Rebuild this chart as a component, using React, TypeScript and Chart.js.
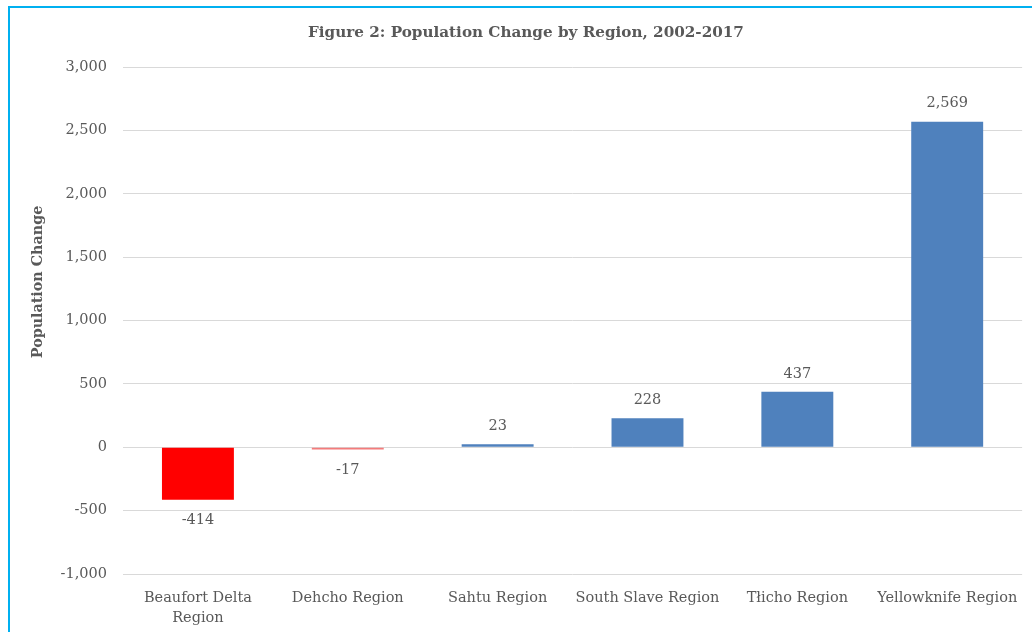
import React, { useEffect, useRef } from "react";
import { Chart, registerables } from "chart.js";

Chart.register(...registerables);

const categories: (string | string[])[] = [
  ["Beaufort Delta", "Region"],
  "Dehcho Region",
  "Sahtu Region",
  "South Slave Region",
  "Tłicho Region",
  "Yellowknife Region",
];
const populationChange: number[] = [-414, -17, 23, 228, 437, 2569];
const barColors: string[] = ["#FF0000", "#F47B7B", "#4F81BD", "#4F81BD", "#4F81BD", "#4F81BD"];
const yMin = -1000;
const yMax = 3000;
const yStep = 500;
const chartTitle = "Figure 2: Population Change by Region, 2002-2017";
const yAxisTitle = "Population Change";

const FONT = "'DejaVu Serif', serif";
const TEXT = "#595959";

const fmt = (v: number) => v.toLocaleString("en-US");

export default function App() {
  const ref = useRef<HTMLCanvasElement | null>(null);

  useEffect(() => {
    if (!ref.current) return;
    const labelsPlugin = {
      id: "extras",
      afterDraw(chart: any) {
        const ctx = chart.ctx;
        ctx.save();
        ctx.fillStyle = TEXT;
        ctx.font = `bold 15.2px ${FONT}`;
        ctx.textAlign = "center";
        ctx.textBaseline = "middle";
        ctx.fillText(chartTitle, 526, 33);
        ctx.save();
        ctx.translate(38, 282);
        ctx.rotate(-Math.PI / 2);
        ctx.font = `bold 14.3px ${FONT}`;
        ctx.fillText(yAxisTitle, 0, 0);
        ctx.restore();
        ctx.font = `14.5px ${FONT}`;
        const meta = chart.getDatasetMeta(0);
        meta.data.forEach((bar: any, i: number) => {
          const v = populationChange[i];
          const y = v >= 0 ? bar.y - 18 : bar.y + 21;
          ctx.fillText(fmt(v), bar.x, y);
        });
        ctx.restore();
      },
    };

    const chart = new Chart(ref.current, {
      type: "bar",
      data: {
        labels: categories,
        datasets: [
          {
            data: populationChange,
            backgroundColor: barColors,
            borderWidth: 0,
            categoryPercentage: 1,
            barPercentage: 0.48,
          },
        ],
      },
      options: {
        responsive: false,
        animation: false,
        layout: { padding: { left: 0, right: 9, top: 67, bottom: 0 } },
        plugins: {
          legend: { display: false },
          tooltip: { enabled: false },
          title: { display: false },
        },
        scales: {
          x: {
            grid: { display: false, drawTicks: false },
            border: { display: false },
            ticks: {
              color: TEXT,
              font: { family: FONT, size: 14.5, lineHeight: 1.38 },
              padding: 14,
              maxRotation: 0,
              autoSkip: false,
            },
            afterFit(scale: any) {
              scale.height = 58;
            },
          },
          y: {
            min: yMin,
            max: yMax,
            grid: { color: "#D9D9D9", lineWidth: 1, drawTicks: false },
            border: { display: false },
            ticks: {
              stepSize: yStep,
              color: TEXT,
              font: { family: FONT, size: 14.5 },
              padding: 16,
              callback: (v: any) => fmt(Number(v)),
            },
            afterFit(scale: any) {
              scale.width = 123;
            },
          },
        },
      },
      plugins: [labelsPlugin],
    });
    return () => chart.destroy();
  }, []);

  return (
    <div style={{ position: "fixed", left: 0, top: 0, width: 1032, height: 632, background: "#fff", overflow: "hidden" }}>
      <canvas ref={ref} width={1032} height={632} style={{ position: "absolute", left: 0, top: 0 }} />
      <div
        style={{
          position: "absolute",
          left: 8,
          top: 6,
          width: 1100,
          height: 700,
          border: "2px solid #00B0F0",
          pointerEvents: "none",
        }}
      />
    </div>
  );
}
